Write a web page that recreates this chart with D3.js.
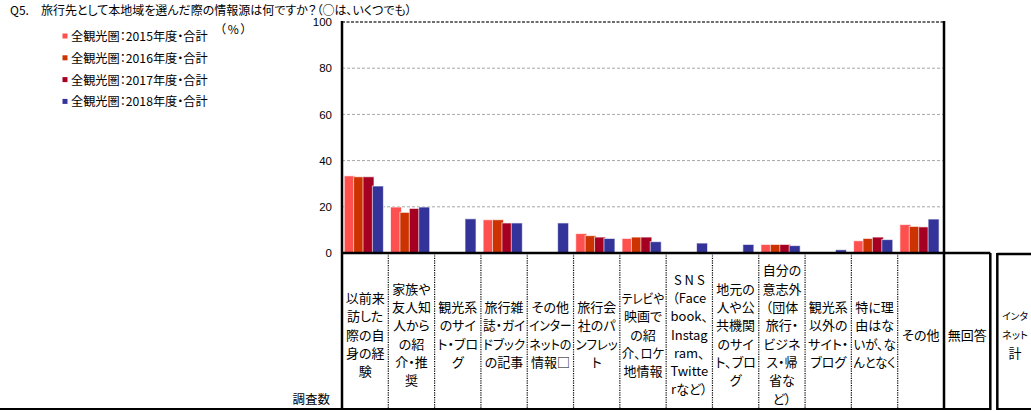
<!DOCTYPE html>
<html><head><meta charset="utf-8">
<script src="https://cdn.jsdelivr.net/npm/d3@7"></script>
<style>
body{margin:0;background:#fff;}
svg{display:block;font-family:"Noto Sans CJK JP","Noto Sans",sans-serif;font-feature-settings:"palt";}
</style></head>
<body><svg id="c" width="1031" height="411"></svg>
<script>
const title = "Q5.　旅行先として本地域を選んだ際の情報源は何ですか？（○は、いくつでも）";
const unitLabel = "（%）";
const seriesNames = ["全観光圏：2015年度・合計","全観光圏：2016年度・合計","全観光圏：2017年度・合計","全観光圏：2018年度・合計"];
const seriesColors = ["#FF5050","#CC3300","#A50021","#333399"];
const categories = ["以前来訪した際の自身の経験","家族や友人知人からの紹介・推奨","観光系のサイト・ブログ","旅行雑誌・ガイドブックの記事","その他インターネットの情報□","旅行会社のパンフレット","テレビや映画での紹介、ロケ地情報","SNS（Facebook、Instagram、Twitterなど）","地元の人や公共機関のサイト、ブログ","自分の意志外（団体旅行・ビジネス・帰省など）","観光系以外のサイト・ブログ","特に理由はないが、なんとなく","その他"];
const categoryLines = [
  ["以前来","訪した","際の自","身の経","験"],
  ["家族や","友人知","人から","の紹","介・推","奨"],
  ["観光系","のサイ","ト・ブロ","グ"],
  ["旅行雑","誌・ガイ","ドブック","の記事"],
  ["その他","インター","ネットの","情報□"],
  ["旅行会","社のパ","ンフレッ","ト"],
  ["テレビや","映画で","の紹","介、ロケ","地情報"],
  ["S N S","（Face","book、","Instag","ram、","Twitte","rなど）"],
  ["地元の","人や公","共機関","のサイ","ト、ブロ","グ"],
  ["自分の","意志外","（団体","旅行・","ビジネ","ス・帰","省な","ど）"],
  ["観光系","以外の","サイト・","ブログ"],
  ["特に理","由はな","いが、な","んとなく"],
  ["その他"]
];
const extraColumns = [["無回答"],["インタ","ネット","計"]];
const rowLabel = "調査数";
const values2015 = [33.4,19.9,null,14.4,null,8.4,6.3,null,null,3.7,null,5.3,12.3];
const values2016 = [33.0,17.6,null,14.4,null,7.5,6.9,null,null,3.7,null,6.3,11.5];
const values2017 = [33.0,19.3,null,13.0,null,6.9,6.9,null,null,3.7,null,6.9,11.3];
const values2018 = [29.0,19.9,14.8,13.0,13.0,6.3,4.9,4.3,3.7,3.2,1.4,5.8,14.7];
const yTicks = [0,20,40,60,80,100];

const seriesValues = [values2015,values2016,values2017,values2018];
const svg = d3.select("#c");
const L = 342, R = 944, T = 22, B = 253, TB = 409;

const x = d3.scaleBand().domain(categories).range([L, R]).padding(0);
const y = d3.scaleLinear().domain([0, 100]).range([B, T]);
const sub = d3.scaleBand().domain(d3.range(4)).range([2.2, 2.2 + 4 * 9.4]).padding(0);
const bw = sub.bandwidth() + 1.6;

function fit(sel, maxW) {
  sel.each(function () {
    const w = this.getComputedTextLength();
    if (w > maxW) d3.select(this).attr("textLength", maxW).attr("lengthAdjust", "spacingAndGlyphs");
  });
}
function shrink(sel, maxW, fs) {
  sel.each(function () {
    const w = this.getComputedTextLength();
    if (w > maxW) d3.select(this).attr("font-size", fs * maxW / w);
  });
}

// title
svg.append("text").attr("x", 10).attr("y", 9).attr("dominant-baseline", "central")
  .attr("font-size", 12).attr("fill", "#000").text(title);
svg.append("text").attr("x", 234).attr("y", 28).attr("dominant-baseline", "central")
  .attr("text-anchor", "middle").attr("font-size", 12).attr("letter-spacing", 1.5)
  .style("font-feature-settings", "normal").text(unitLabel);

// legend
seriesNames.forEach((n, i) => {
  const yy = 36 + i * 21.8;
  svg.append("rect").attr("x", 62.5).attr("y", yy - 2.5).attr("width", 5).attr("height", 5).attr("fill", seriesColors[i]);
  svg.append("text").attr("x", 71).attr("y", yy).attr("dominant-baseline", "central")
    .attr("font-size", 12.2).attr("fill", "#000").text(n);
});

// gridlines
svg.append("g").selectAll("line").data(yTicks.filter(t => t > 0 && t < 100)).join("line")
  .attr("x1", L).attr("x2", R).attr("y1", d => y(d)).attr("y2", d => y(d))
  .attr("stroke", "#a6a6a6").attr("stroke-width", 1).attr("stroke-dasharray", "3,2");
svg.append("line").attr("x1", L).attr("x2", R).attr("y1", y(100)).attr("y2", y(100))
  .attr("stroke", "#404040").attr("stroke-width", 1.5).attr("stroke-dasharray", "3,1.5");

// y axis labels
const yAxis = d3.axisLeft(y).tickValues(yTicks).tickSize(0).tickPadding(10).tickFormat(d3.format("d"));
const ya = svg.append("g").attr("transform", `translate(${L},0)`).call(yAxis);
ya.select(".domain").remove();
ya.selectAll("text").attr("font-size", 11.5).attr("fill", "#000")
  .attr("font-family", "'Liberation Sans','Noto Sans',sans-serif");

// bars
seriesValues.forEach((vals, si) => {
  svg.append("g").selectAll("rect").data(categories.map((c, i) => ({c, v: vals[i]})).filter(d => d.v != null))
    .join("rect")
    .attr("x", d => x(d.c) + sub(si)).attr("width", bw)
    .attr("y", d => y(d.v)).attr("height", d => y(0) - y(d.v))
    .attr("fill", seriesColors[si])
    .attr("stroke", "rgba(255,255,255,0.65)").attr("stroke-width", 1);
});

// table frame
const lineG = svg.append("g");
lineG.selectAll("line.sep").data(categories.slice(1)).join("line")
  .attr("x1", d => x(d)).attr("x2", d => x(d)).attr("y1", B).attr("y2", TB)
  .attr("stroke", "#000").attr("stroke-width", 1.2).attr("stroke-dasharray", "1.2,1.2");
lineG.append("line").attr("x1", L).attr("x2", L).attr("y1", T - 1).attr("y2", TB + 1).attr("stroke", "#000").attr("stroke-width", 2.5);
lineG.append("line").attr("x1", R).attr("x2", R).attr("y1", T - 1).attr("y2", TB + 1).attr("stroke", "#000").attr("stroke-width", 2.5);
const colW = x.bandwidth();
lineG.append("line").attr("x1", L).attr("x2", R + colW).attr("y1", B).attr("y2", B).attr("stroke", "#000").attr("stroke-width", 2.5);
lineG.append("line").attr("x1", R + colW + 7).attr("x2", 1031).attr("y1", B + 1).attr("y2", B + 1).attr("stroke", "#000").attr("stroke-width", 2.5);
lineG.append("line").attr("x1", R + colW).attr("x2", R + colW).attr("y1", B).attr("y2", TB + 1).attr("stroke", "#000").attr("stroke-width", 2.5);
lineG.append("line").attr("x1", R + colW + 7).attr("x2", R + colW + 7).attr("y1", B).attr("y2", TB + 1).attr("stroke", "#000").attr("stroke-width", 2.5);
lineG.append("line").attr("x1", 0).attr("x2", R + colW).attr("y1", TB).attr("y2", TB).attr("stroke", "#000").attr("stroke-width", 2);
lineG.append("line").attr("x1", R + colW + 7).attr("x2", 1031).attr("y1", TB).attr("y2", TB).attr("stroke", "#000").attr("stroke-width", 2);

// category labels
const LH = 18.3, CY = 334;
function drawLines(lines, cx, maxW, useShrink) {
  const n = lines.length;
  lines.forEach((s, i) => {
    const t = svg.append("text").attr("font-size", 13).attr("fill", "#000").attr("text-anchor", "middle")
      .attr("x", cx).attr("y", CY + (i - (n - 1) / 2) * LH).attr("dominant-baseline", "central").text(s);
    if (useShrink) shrink(t, maxW, 13); else fit(t, maxW);
  });
}
categories.forEach((c, i) => drawLines(categoryLines[i], x(c) + colW / 2, colW - 4, false));
drawLines(extraColumns[0], R + colW / 2, colW - 4, false);
drawLines(extraColumns[1], 1015, 26, true);

svg.append("text").attr("x", 330).attr("y", 398).attr("dominant-baseline", "central")
  .attr("text-anchor", "end").attr("font-size", 12.5).text(rowLabel);
</script></body></html>
